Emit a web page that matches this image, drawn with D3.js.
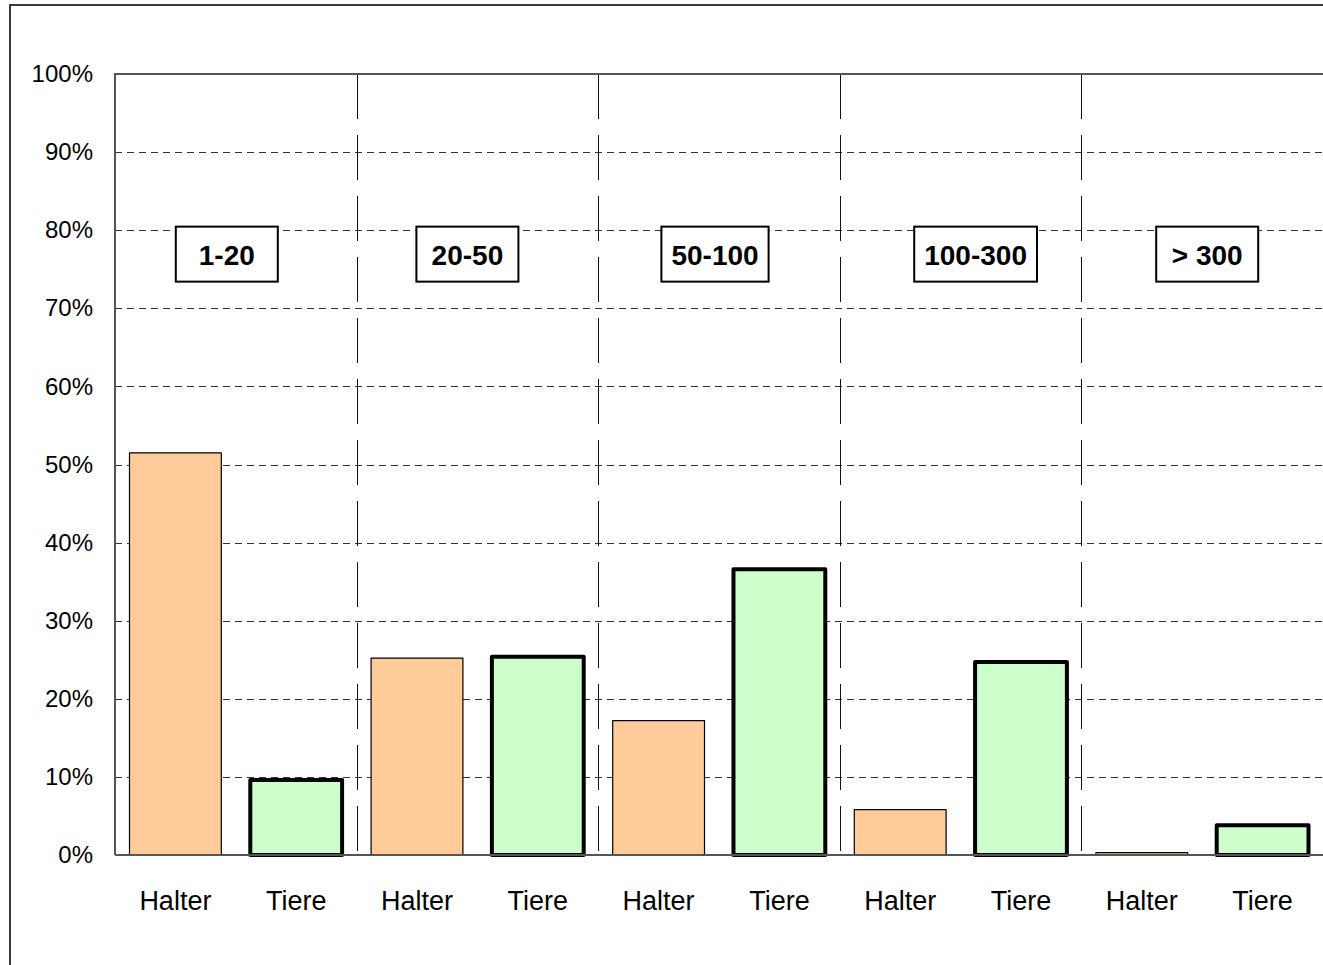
<!DOCTYPE html>
<html>
<head>
<meta charset="utf-8">
<script src="https://cdn.jsdelivr.net/npm/d3@7"></script>
<style>
  body { margin: 0; background: #fff; }
  svg { display: block; font-family: Arial, "Liberation Sans", sans-serif; }
</style>
</head>
<body>
<svg id="viewport" width="1323" height="965"></svg>
<script>
// herd size classes
const groups = ['1-20', '20-50', '50-100', '100-300', '> 300'];
// share of holders (Halter) and animals (Tiere) per class, in %
const halter = [51.5, 25.2, 17.2, 5.8, 0.3];
const tiere = [9.6, 25.4, 36.6, 24.7, 3.8];
const seriesNames = ['Halter', 'Tiere'];
const yTicks = [0, 10, 20, 30, 40, 50, 60, 70, 80, 90, 100];

const colours = {
  Halter: '#ffcc99',
  Tiere: '#ccffcc',
};

const margin = { left: 115, right: 0, top: 74, bottom: 110 };
const width = 1323;
const height = 965;

// flatten into bars: Halter, Tiere for every class
const bars = [];
groups.forEach((g, i) => {
  bars.push({ id: `${i}-H`, group: g, series: 'Halter', value: halter[i] });
  bars.push({ id: `${i}-T`, group: g, series: 'Tiere', value: tiere[i] });
});

const svg = d3.select('#viewport');

const x = d3.scaleBand()
  .domain(bars.map((d) => d.id))
  .range([margin.left, width - margin.right])
  .paddingInner(0.24)
  .paddingOuter(0.12);

const gx = d3.scaleBand()
  .domain(groups)
  .range([margin.left, width - margin.right]);

const y = d3.scaleLinear()
  .domain([0, 100])
  .range([height - margin.bottom, margin.top]);

// outer chart frame
svg.append('rect')
  .attr('x', 10)
  .attr('y', 5)
  .attr('width', width + 20)
  .attr('height', height + 20)
  .style('fill', 'none')
  .style('stroke', '#3a3a3a')
  .style('stroke-width', 2);

// horizontal dashed gridlines
svg.append('g')
  .selectAll('line')
  .data(yTicks.filter((t) => t > 0 && t < 100))
  .join('line')
  .attr('x1', margin.left)
  .attr('x2', width)
  .attr('y1', (d) => Math.round(y(d)) + 0.5)
  .attr('y2', (d) => Math.round(y(d)) + 0.5)
  .style('stroke', '#333')
  .style('stroke-width', 1)
  .style('stroke-dasharray', '7,5');

// vertical dividers between classes
svg.append('g')
  .selectAll('line')
  .data(groups.slice(1))
  .join('line')
  .attr('x1', (d) => Math.round(gx(d)) + 0.5)
  .attr('x2', (d) => Math.round(gx(d)) + 0.5)
  .attr('y1', y(100))
  .attr('y2', y(0))
  .style('stroke', '#111')
  .style('stroke-width', 1)
  .style('stroke-dasharray', '45,16');

// plot border: top and left
svg.append('path')
  .attr('d', `M${width},${y(100)}H${margin.left}V${y(0)}`)
  .style('fill', 'none')
  .style('stroke', '#555')
  .style('stroke-width', 2);

// bars
svg.append('g')
  .selectAll('rect')
  .data(bars)
  .join('rect')
  .attr('x', (d) => x(d.id))
  .attr('width', x.bandwidth())
  .attr('y', (d) => y(d.value))
  .attr('height', (d) => y(0) - y(d.value))
  .style('fill', (d) => colours[d.series])
  .style('stroke', '#000')
  .style('stroke-width', (d) => (d.series === 'Tiere' ? 4 : 1.2))
  .style('stroke-linejoin', 'round');

// baseline
svg.append('line')
  .attr('x1', margin.left)
  .attr('x2', width)
  .attr('y1', y(0))
  .attr('y2', y(0))
  .style('stroke', '#555')
  .style('stroke-width', 2);

// y axis labels
const yAxis = d3.axisLeft(y)
  .tickValues(yTicks)
  .tickSize(0)
  .tickPadding(22)
  .tickFormat((d) => `${d}%`);

svg.append('g')
  .attr('transform', `translate(${margin.left},0)`)
  .call(yAxis)
  .call((g) => g.select('.domain').remove())
  .selectAll('text')
  .style('font-size', '24px')
  .style('font-family', 'Arial, "Liberation Sans", sans-serif')
  .style('fill', '#000');

// x labels
svg.append('g')
  .selectAll('text')
  .data(bars)
  .join('text')
  .attr('x', (d) => x(d.id) + x.bandwidth() / 2)
  .attr('y', 910)
  .attr('text-anchor', 'middle')
  .style('font-size', '27px')
  .style('fill', '#000')
  .text((d) => d.series);

// class label boxes
const labelShift = [-9, -10, -4, 15, 5];
const labels = svg.append('g')
  .selectAll('g')
  .data(groups)
  .join('g')
  .attr('transform', (d, i) => `translate(${gx(d) + gx.bandwidth() / 2 + labelShift[i]},${y(77)})`);

labels.each((d, i, n) => {
  const item = d3.select(n[i]);
  const rect = item.append('rect');
  const text = item.append('text')
    .attr('text-anchor', 'middle')
    .attr('dy', '0.42em')
    .style('font-size', '28px')
    .style('font-weight', 'bold')
    .style('fill', '#000')
    .text(d);
  const w = Math.max(102, text.node().getComputedTextLength() + 20);
  rect.attr('x', -w / 2)
    .attr('y', -27)
    .attr('width', w)
    .attr('height', 55)
    .style('fill', '#fff')
    .style('stroke', '#000')
    .style('stroke-width', 2);
});
</script>
</body>
</html>
